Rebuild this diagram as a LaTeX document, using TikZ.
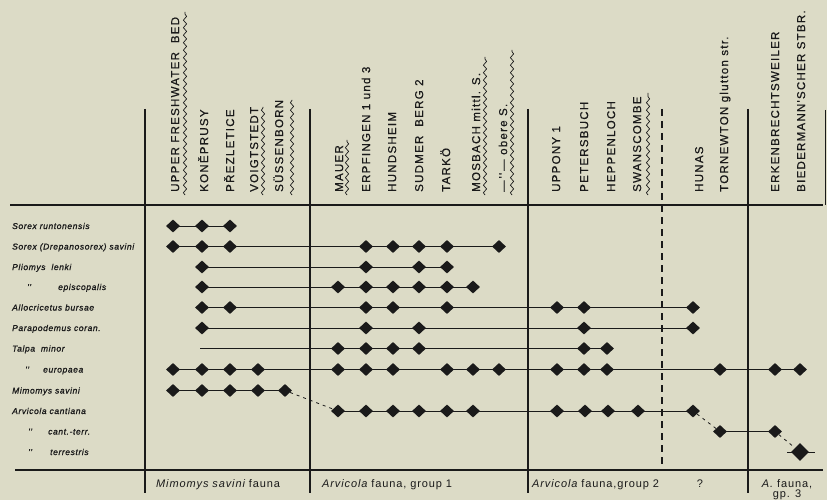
\documentclass[tikz,border=0pt]{standalone}
\usepackage{fontspec}
\setmainfont{Liberation Sans}
\newfontfamily\hdrfont[LetterSpace=11,FakeBold=0.6]{Liberation Sans}
\newfontfamily\lblfont[LetterSpace=7,FakeBold=1]{Liberation Sans}
\newfontfamily\footfont[LetterSpace=8]{Liberation Sans}
\usetikzlibrary{shapes.geometric,decorations.pathmorphing}
\definecolor{bg}{HTML}{DCDBC6}
\definecolor{ink}{HTML}{1A1A1A}
\begin{document}
\begin{tikzpicture}[x=1pt,y=-1pt,
  dia/.style={diamond, fill=ink, draw=none, minimum width=14pt, minimum height=13pt, inner sep=0pt},
  bigdia/.style={dia, minimum width=18pt, minimum height=18pt},
  conn/.style={draw=ink, line width=0.8pt},
  dconn/.style={draw=ink, line width=0.8pt, dash pattern=on 3pt off 4pt},
  gridline/.style={draw=ink, line width=1.8pt},
  hdr/.style={rotate=90, anchor=base west, inner sep=0pt, text=ink, font=\hdrfont\fontsize{11.5}{12}\selectfont},
  wavy/.style={draw=ink, line width=0.7pt, decorate, decoration={snake, segment length=7.5pt, amplitude=1.6pt}},
  lbl/.style={anchor=base west, inner sep=0pt, text=ink, font=\lblfont\itshape\fontsize{8.5}{9}\selectfont},
  foot/.style={anchor=base west, inner sep=0pt, text=ink, font=\footfont\fontsize{11}{12}\selectfont},
  footc/.style={foot, anchor=base}
]
\useasboundingbox (0,0) rectangle (827,500);
\fill[bg] (0,0) rectangle (827,500);

% grid
\draw[gridline] (10,205) -- (823,205);
\draw[gridline] (15,470) -- (823,470);
\foreach \x in {145,310,528,748} \draw[gridline] (\x,109) -- (\x,493);
\draw[draw=ink, line width=1.1pt, dash pattern=on 7pt off 5pt] (662,109) -- (662,470);
\draw[gridline] (825.5,110) -- (825.5,205);

% headers (x = cap centre + 4.1 for baseline)
\node[hdr] (hA) at (179.1,192) {UPPER FRESHWATER\ \ BED};
\node[hdr] (hB) at (208.1,192) {KONĚPRUSY};
\node[hdr] (hC) at (234.1,192) {PŘEZLETICE};
\node[hdr] (hD) at (258.1,192) {VOIGTSTEDT};
\node[hdr] (hE) at (283.1,192) {SÜSSENBORN};
\node[hdr] (hF) at (343.1,192) {MAUER};
\node[hdr] (hG) at (370.1,192) {ERPFINGEN 1 und 3};
\node[hdr] (hH) at (396.1,192) {HUNDSHEIM};
\node[hdr] (hI) at (423.1,192) {SUDMER\ \ BERG 2};
\node[hdr] (hJ) at (450.1,192) {TARKÖ};
\node[hdr] (hK) at (480.1,192) {MOSBACH mittl. S.};
\node[hdr] (hL) at (507.1,192) {—\,''\,— obere S.};
\node[hdr] (hM) at (560.1,192) {UPPONY 1};
\node[hdr] (hN) at (588.1,192) {PETERSBUCH};
\node[hdr] (hO) at (615.1,192) {HEPPENLOCH};
\node[hdr] (hP) at (641.1,192) {SWANSCOMBE};
\node[hdr] (hQ) at (703.1,192) {HUNAS};
\node[hdr] (hR) at (728.1,192) {TORNEWTON glutton str.};
\node[hdr] (hS) at (779.1,192) {ERKENBRECHTSWEILER};
\node[hdr] (hT) at (805.1,192) {BIEDERMANN'SCHER STBR.};

% wavy underlines
\draw[wavy] (185,195) -- (185,12);
\draw[wavy] (263,195) -- (263,107);
\draw[wavy] (292,195) -- (292,100);
\draw[wavy] (347,195) -- (347,140);
\draw[wavy] (485,195) -- (485,57);
\draw[wavy] (512,195) -- (512,50);
\draw[wavy] (648,195) -- (648,93);

% species labels
\node[lbl] (l1) at (12,229) {Sorex runtonensis};
\node[lbl] (l2) at (12,249.5) {Sorex (Drepanosorex) savini};
\node[lbl] (l3) at (12,270) {Pliomys\ \ lenki};
\node[lbl] (l4a) at (27,290) {''};
\node[lbl] (l4) at (58,290) {episcopalis};
\node[lbl] (l5) at (12,310.5) {Allocricetus bursae};
\node[lbl] (l6) at (12,331) {Parapodemus coran.};
\node[lbl] (l7) at (12,351.5) {Talpa\ \ minor};
\node[lbl] (l8a) at (25,372.5) {''};
\node[lbl] (l8) at (43,372.5) {europaea};
\node[lbl] (l9) at (12,393.5) {Mimomys savini};
\node[lbl] (l10) at (12,414) {Arvicola cantiana};
\node[lbl] (l11a) at (28,434.5) {''};
\node[lbl] (l11) at (48,434.5) {cant.-terr.};
\node[lbl] (l12a) at (28,455) {''};
\node[lbl] (l12) at (50,455) {terrestris};

% diamonds
\foreach \n/\x in {A/173,B/202,C/230} \node[dia] (r1\n) at (\x,226) {};
\foreach \n/\x in {A/173,B/202,C/230,G/366,H/393,I/419,J/447,L/499} \node[dia] (r2\n) at (\x,246.5) {};
\foreach \n/\x in {B/202,G/366,I/419,J/447} \node[dia] (r3\n) at (\x,267) {};
\foreach \n/\x in {B/202,F/338,G/366,H/393,I/419,J/447,K/473} \node[dia] (r4\n) at (\x,287) {};
\foreach \n/\x in {B/202,C/230,G/366,H/393,J/447,M/557,N/584,Q/693} \node[dia] (r5\n) at (\x,307.5) {};
\foreach \n/\x in {B/202,G/366,I/419,N/584,Q/693} \node[dia] (r6\n) at (\x,328) {};
\foreach \n/\x in {F/338,G/366,H/393,I/419,N/584,O/607} \node[dia] (r7\n) at (\x,348.5) {};
\foreach \n/\x in {A/173,B/202,C/230,D/258,F/338,G/366,H/393,J/447,K/473,L/499,M/557,N/584,O/607,R/720,S/775,T/800} \node[dia] (r8\n) at (\x,369.5) {};
\foreach \n/\x in {A/173,B/202,C/230,D/258,E/285} \node[dia] (r9\n) at (\x,390.5) {};
\foreach \n/\x in {F/338,G/366,H/393,I/419,J/447,K/473,M/557,N/585,O/608,P/638,Q/693} \node[dia] (r10\n) at (\x,411) {};
\foreach \n/\x in {R/720,S/775} \node[dia] (r11\n) at (\x,431.5) {};
\node[bigdia] (r12T) at (800,452) {};
\coordinate (r7s) at (200,348.5);
\coordinate (r12s) at (787,452);
\coordinate (r12e) at (815,452);

% range lines
\draw[conn] (r1A.center) -- (r1C.center);
\draw[conn] (r2A.center) -- (r2L.center);
\draw[conn] (r3B.center) -- (r3J.center);
\draw[conn] (r4B.center) -- (r4K.center);
\draw[conn] (r5B.center) -- (r5Q.center);
\draw[conn] (r6B.center) -- (r6Q.center);
\draw[conn] (r7s) -- (r7O.center);
\draw[conn] (r8A.center) -- (r8T.center);
\draw[conn] (r9A.center) -- (r9E.center);
\draw[conn] (r10F.center) -- (r10Q.center);
\draw[conn] (r11R.center) -- (r11S.center);
\draw[conn] (r12s) -- (r12e);
\draw[dconn] (r9E) -- (r10F);
\draw[dconn] (r10Q) -- (r11R);
\draw[dconn] (r11S) -- (r12T);

% footer
\node[foot] (f1) at (156,487) {\itshape Mimomys savini\upshape\ fauna};
\node[foot] (f2) at (322,487) {\itshape Arvicola\upshape\ fauna, group 1};
\node[foot] (f3) at (532,487) {\itshape Arvicola\upshape\ fauna,group 2};
\node[footc] (f4) at (700,487) {?};
\node[footc] (f5) at (787,487) {\itshape A.\upshape\ fauna,};
\node[footc] (f6) at (787,497.5) {gp. 3};
\end{tikzpicture}
\end{document}
